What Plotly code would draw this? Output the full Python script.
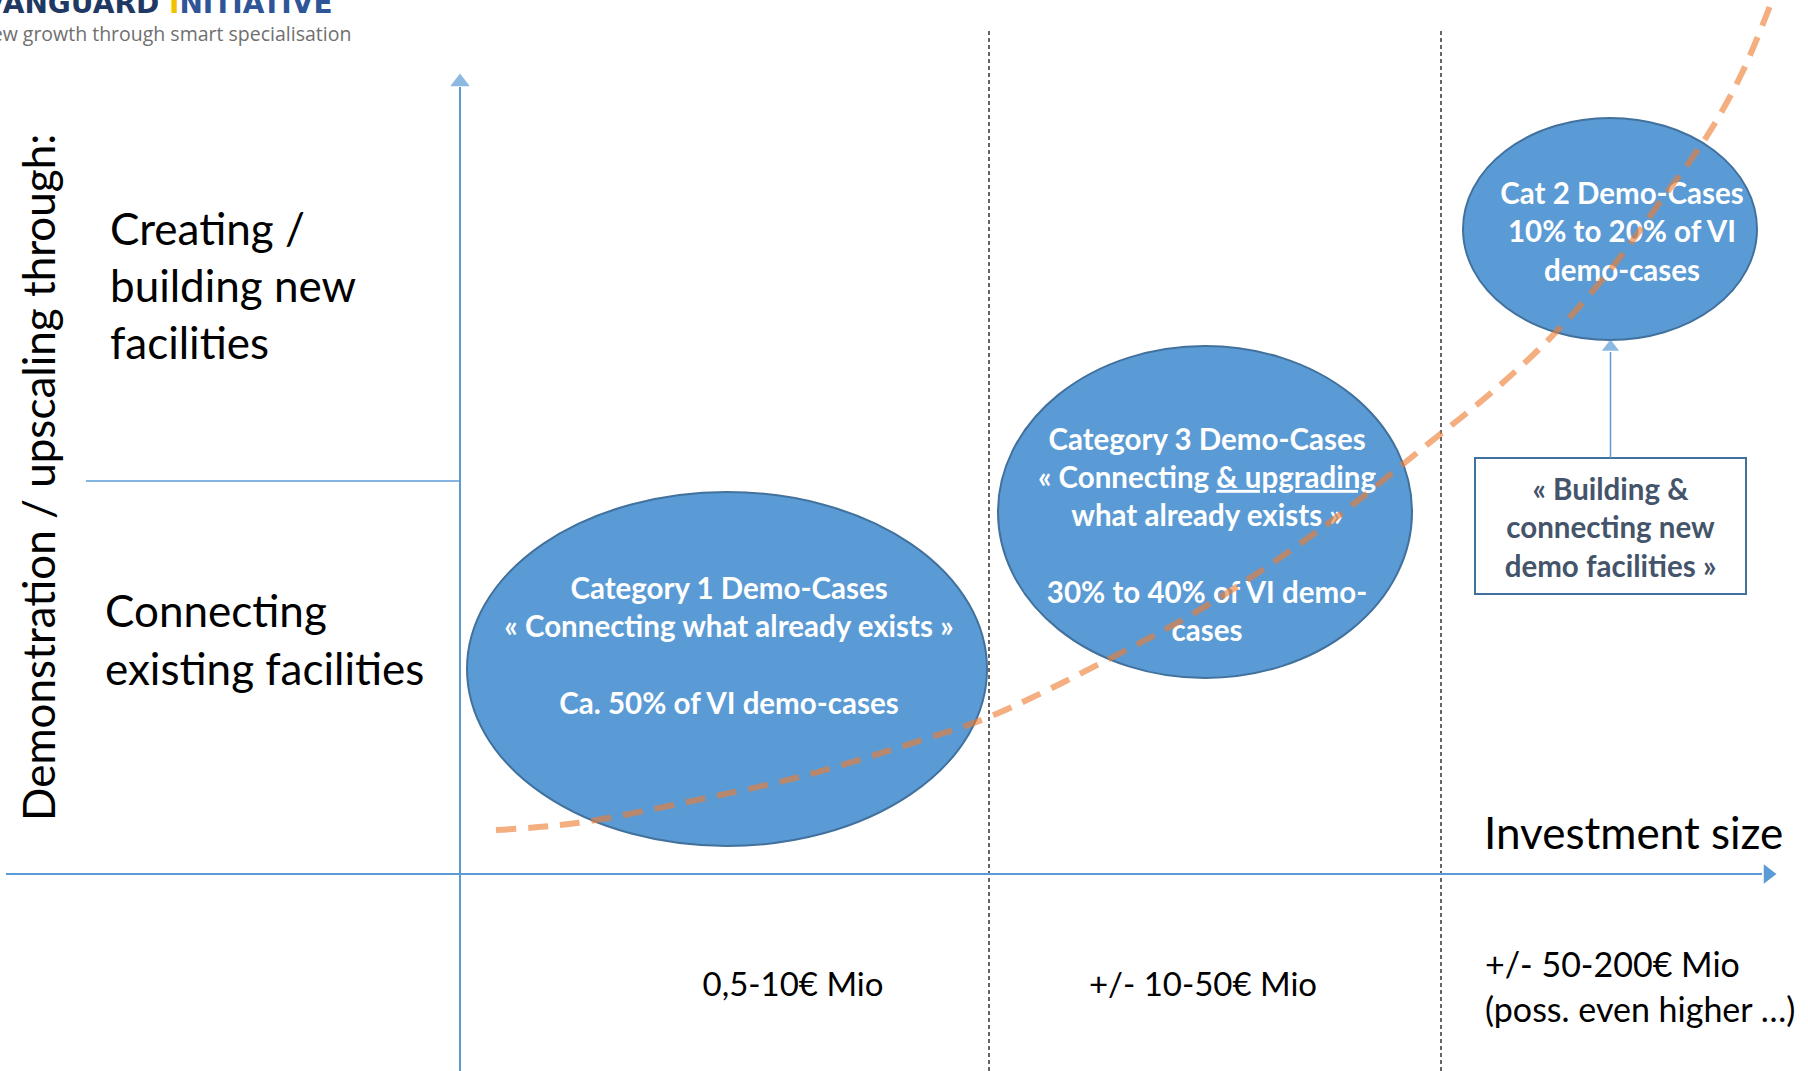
import plotly.graph_objects as go

W, H = 1808, 1071

# ---------------- data (diagram coordinates, y grows downward) ----------------
origin_x = 460
axis_y = 874
y_axis_top = 75
x_axis_left = 6
x_axis_right = 1776
divider_y = 481
divider_left = 86
band_edges = [989, 1441]
band_top = 31

bubble_cx = [727, 1205, 1610]
bubble_cy = [669, 512, 229]
bubble_rx = [260, 207, 147]
bubble_ry = [177, 166, 111]
bubble_text = [
    "Category 1 Demo-Cases<br>« Connecting what already exists »<br> <br>Ca. 50% of VI demo-cases",
    "Category 3 Demo-Cases<br>« Connecting <u>& upgrading</u><br>what already exists »<br> <br>30% to 40% of VI demo-<br>cases",
    "Cat 2 Demo-Cases<br>10% to 20% of VI<br>demo-cases",
]
bubble_text_x = [729, 1207, 1622]
bubble_text_y = [649, 538, 235]

box_x = [1475, 1746]
box_y = [458, 594]
box_text = "« Building &<br>connecting new<br>demo facilities »"

curve_x = [496, 577, 692, 807, 922, 989, 1107, 1211, 1326, 1418, 1499, 1557, 1614, 1660, 1707, 1741, 1770]
curve_y = [830, 823, 801, 775, 740, 717, 660, 603, 525, 452, 386, 331, 265, 202, 136, 75, 6]

inv_labels = ["0,5-10€ Mio", "+/- 10-50€ Mio", "+/- 50-200€ Mio<br>(poss. even higher …)"]
inv_x = [793, 1203, 1485]
inv_y = [988, 988, 991]

row_labels = ["Creating /<br>building new<br>facilities", "Connecting<br>existing facilities"]
row_x = [110, 105]
row_y = [291, 645]

AX = "#5B9BD5"
FONT = "Lato"

fig = go.Figure()

# ---------------- shapes ----------------
shapes = []
for bx in band_edges:
    shapes.append(dict(type="line", x0=bx, x1=bx, y0=band_top, y1=H, xref="x", yref="y",
                       line=dict(color="#333333", width=1.5, dash="4px,3px"), layer="below"))
shapes.append(dict(type="line", x0=origin_x, x1=origin_x, y0=y_axis_top + 12, y1=H, xref="x", yref="y",
                   line=dict(color=AX, width=2), layer="below"))
shapes.append(dict(type="line", x0=x_axis_left, x1=x_axis_right - 14, y0=axis_y, y1=axis_y, xref="x", yref="y",
                   line=dict(color=AX, width=2), layer="below"))
shapes.append(dict(type="line", x0=divider_left, x1=origin_x, y0=divider_y, y1=divider_y, xref="x", yref="y",
                   line=dict(color=AX, width=1.5), layer="below"))
for cx, cy, rx, ry in zip(bubble_cx, bubble_cy, bubble_rx, bubble_ry):
    shapes.append(dict(type="circle", x0=cx - rx, x1=cx + rx, y0=cy - ry, y1=cy + ry, xref="x", yref="y",
                       fillcolor="#5B9BD5", line=dict(color="#41719C", width=2), layer="below"))
shapes.append(dict(type="rect", x0=box_x[0], x1=box_x[1], y0=box_y[0], y1=box_y[1], xref="x", yref="y",
                   fillcolor="white", line=dict(color="#41719C", width=2), layer="below"))
cat2_bottom = bubble_cy[2] + bubble_ry[2]
box_mid = (box_x[0] + box_x[1]) / 2
shapes.append(dict(type="line", x0=box_mid, x1=box_mid, y0=box_y[0], y1=cat2_bottom + 12, xref="x", yref="y",
                   line=dict(color=AX, width=1.5), layer="below"))

# ---------------- traces ----------------
fig.add_trace(go.Scatter(
    x=bubble_text_x, y=bubble_text_y, mode="text", text=["<b>%s</b>" % t for t in bubble_text],
    textposition="middle center", textfont=dict(family=FONT, size=29.5, color="white"),
    hoverinfo="skip", showlegend=False))
fig.add_trace(go.Scatter(
    x=[box_mid], y=[(box_y[0] + box_y[1]) / 2 + 5], mode="text", text=["<b>%s</b>" % box_text],
    textposition="middle center", textfont=dict(family=FONT, size=29.5, color="#44546A"),
    hoverinfo="skip", showlegend=False))
fig.add_trace(go.Scatter(
    x=[origin_x, box_mid], y=[y_axis_top + 7, cat2_bottom + 7], mode="markers",
    marker=dict(symbol="triangle-up", size=[17, 15], color=AX, line=dict(width=0)),
    hoverinfo="skip", showlegend=False))
fig.add_trace(go.Scatter(
    x=[x_axis_right - 8], y=[axis_y], mode="markers",
    marker=dict(symbol="triangle-right", size=17, color=AX, line=dict(width=0)),
    hoverinfo="skip", showlegend=False))
fig.add_trace(go.Scatter(
    x=curve_x, y=curve_y, mode="lines", line=dict(color="rgba(237,125,49,0.62)", width=6,
                                                   dash="20px,12px", shape="spline"),
    hoverinfo="skip", showlegend=False))
fig.add_trace(go.Scatter(
    x=row_x, y=row_y, mode="text", text=row_labels, textposition="middle right",
    textfont=dict(family=FONT, size=44, color="black"), hoverinfo="skip", showlegend=False))
fig.add_trace(go.Scatter(
    x=inv_x[:2], y=inv_y[:2], mode="text", text=inv_labels[:2], textposition="middle center",
    textfont=dict(family=FONT, size=33, color="black"), hoverinfo="skip", showlegend=False))
fig.add_trace(go.Scatter(
    x=inv_x[2:], y=inv_y[2:], mode="text", text=inv_labels[2:], textposition="middle right",
    textfont=dict(family=FONT, size=34, color="black"), hoverinfo="skip", showlegend=False))

# ---------------- annotations ----------------
annotations = [
    dict(x=38, y=478, xref="x", yref="y", text="Demonstration / upscaling through:", textangle=-90,
         showarrow=False, font=dict(family=FONT, size=44, color="black")),
    dict(x=1482, y=832, xref="x", yref="y", text="Investment size", xanchor="left",
         showarrow=False, font=dict(family=FONT, size=44, color="black")),
    dict(x=334, y=21, xref="x", yref="y", xanchor="right", yanchor="bottom", borderpad=0,
         text="<b><span style='color:#1F3864'>VANGUARD </span><span style='color:#F2C200'>I</span>"
              "<span style='color:#2E5597'>NITIATIVE</span></b>",
         showarrow=False, font=dict(family="DejaVu Sans", size=28)),
    dict(x=353, y=33, xref="x", yref="y", xanchor="right", yanchor="middle",
         text="New growth through smart specialisation",
         showarrow=False, font=dict(family="Open Sans", size=19.5, color="#6F6F6F")),
]

fig.update_layout(
    width=W, height=H, margin=dict(l=0, r=0, t=0, b=0),
    paper_bgcolor="white", plot_bgcolor="white",
    xaxis=dict(range=[0, W], visible=False, fixedrange=True),
    yaxis=dict(range=[H, 0], visible=False, fixedrange=True),
    shapes=shapes, annotations=annotations, showlegend=False,
)

fig.write_html("out.html")
